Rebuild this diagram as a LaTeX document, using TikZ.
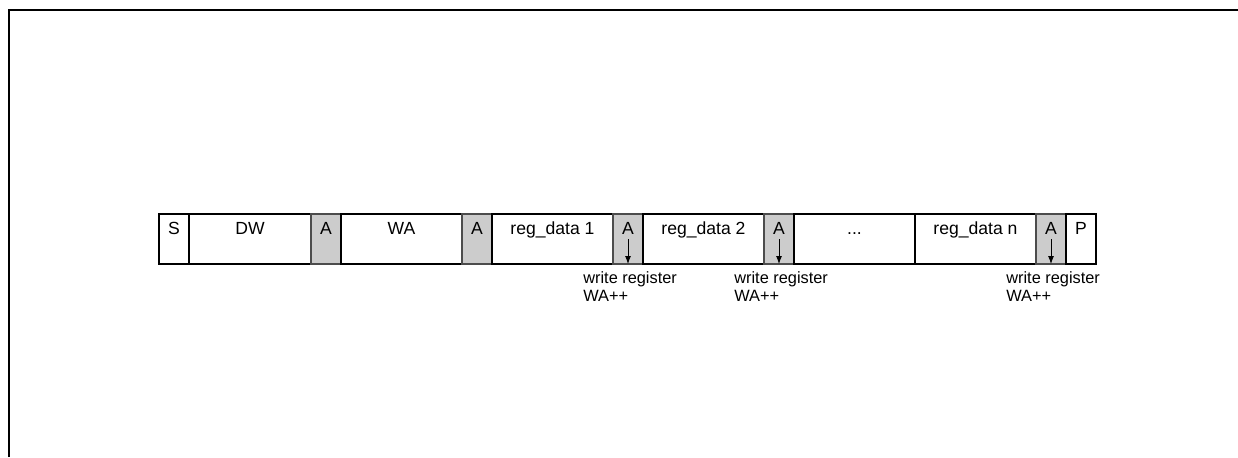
\documentclass[tikz,border=0pt]{standalone}
\usepackage{fontspec}
\setmainfont{Liberation Sans}
\usetikzlibrary{arrows.meta}

\begin{document}
\begin{tikzpicture}
         [cell/.style={draw, line width=0.6pt, minimum height=1cm, inner sep=0pt, outer sep=0pt,
            text height=0.26cm, text depth=0.46cm, font=\fontsize{10}{12}\selectfont},
          small/.style={cell, minimum width=0.6cm},
          wide/.style={cell, minimum width=2.42cm},
          ack/.style={small, draw=black!70, fill=black!20},
          note/.style={align=left, inner sep=0pt, anchor=north west, font=\fontsize{9.3}{10.3}\selectfont}]
         \useasboundingbox (0,0) rectangle (24.76,9.14);
         % frame
         \draw[line width=1.1pt] (0.18,0) -- (0.18,8.94) -- (24.76,8.94);
         % write frame
         \node[small] (s) at (3.48,4.36) {S};
         \node[wide] (dw) at (5.00,4.36) {DW};
         \node[ack] (ack1) at (6.52,4.36) {A};
         \node[wide] (wa) at (8.03,4.36) {WA};
         \node[ack] (ack2) at (9.54,4.36) {A};
         \node[wide] (rd1) at (11.05,4.36) {reg\_data 1};
         \node[ack] (ack3) at (12.56,4.36) {A};
         \node[wide] (rd2) at (14.07,4.36) {reg\_data 2};
         \node[ack] (ack4) at (15.58,4.36) {A};
         \node[wide] (dots) at (17.09,4.36) {...};
         \node[wide] (rdn) at (19.51,4.36) {reg\_data n};
         \node[ack] (ack5) at (21.02,4.36) {A};
         \node[small] (p) at (21.62,4.36) {P};
         \foreach \a in {ack3, ack4, ack5} {
            \draw[-{Latex[length=1.6mm,width=1.2mm]}, line width=0.5pt] (\a.center) -- (\a.south);
            \node[note] (w\a) at ([xshift=-0.9cm,yshift=-0.14cm]\a.south) {write register\\WA++};
         }
       \end{tikzpicture}
\end{document}
